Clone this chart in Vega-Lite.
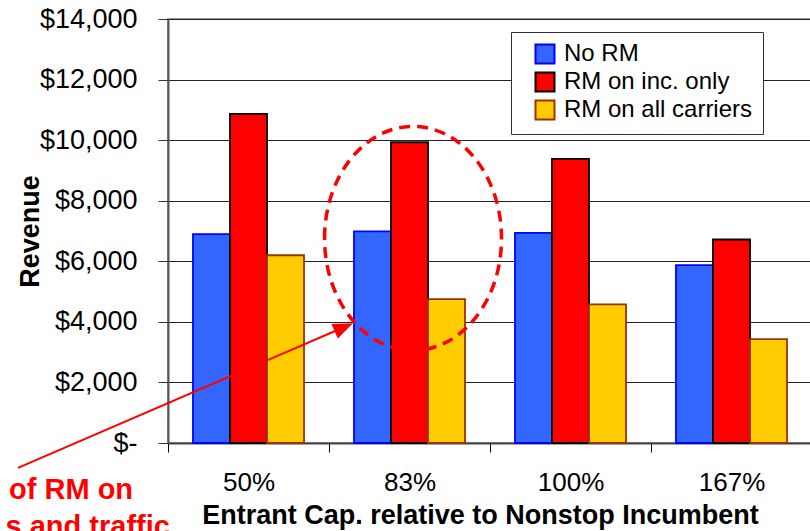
{
  "$schema": "https://vega.github.io/schema/vega-lite/v6.json",
  "description": "Revenue by entrant capacity, with and without RM",
  "width": 644,
  "height": 424,
  "autosize": "none",
  "padding": {"left": 168, "top": 19, "right": 0, "bottom": 88},
  "config": {
    "font": "Liberation Sans",
    "view": {"stroke": "#999999", "strokeWidth": 2},
    "legend": {"symbolStrokeWidth": 2, "labelLimit": 400}
  },
  "layer": [
    {
      "data": {
        "values": [
          {"cap": "50%", "series": "No RM", "revenue": 6900},
          {"cap": "50%", "series": "RM on inc. only", "revenue": 10870},
          {"cap": "50%", "series": "RM on all carriers", "revenue": 6200},
          {"cap": "83%", "series": "No RM", "revenue": 6990},
          {"cap": "83%", "series": "RM on inc. only", "revenue": 9930},
          {"cap": "83%", "series": "RM on all carriers", "revenue": 4750},
          {"cap": "100%", "series": "No RM", "revenue": 6940},
          {"cap": "100%", "series": "RM on inc. only", "revenue": 9380},
          {"cap": "100%", "series": "RM on all carriers", "revenue": 4580},
          {"cap": "167%", "series": "No RM", "revenue": 5870},
          {"cap": "167%", "series": "RM on inc. only", "revenue": 6720},
          {"cap": "167%", "series": "RM on all carriers", "revenue": 3430}
        ]
      },
      "mark": {"type": "bar", "strokeWidth": 1.8},
      "encoding": {
        "x": {
          "field": "cap", "type": "nominal",
          "sort": ["50%", "83%", "100%", "167%"],
          "scale": {"paddingInner": 0, "paddingOuter": 0},
          "axis": {
            "title": "Entrant Cap. relative to Nonstop Incumbent",
            "titleFontSize": 27, "titleFontWeight": "bold", "titleColor": "black",
            "titleX": 312, "titleY": 80, "titleBaseline": "alphabetic",
            "labelAngle": 0, "labelFontSize": 26, "labelColor": "black",
            "labelBaseline": "alphabetic", "labelPadding": 38,
            "tickBand": "extent", "tickSize": 9, "tickColor": "black",
            "domainColor": "#444444", "domainWidth": 2
          }
        },
        "xOffset": {
          "field": "series", "type": "nominal",
          "sort": ["No RM", "RM on inc. only", "RM on all carriers"],
          "scale": {"paddingInner": 0, "paddingOuter": 0.675}
        },
        "y": {
          "field": "revenue", "type": "quantitative",
          "scale": {"domain": [0, 14000], "nice": false},
          "axis": {
            "title": "Revenue",
            "titleFontSize": 27, "titleFontWeight": "bold", "titleColor": "black",
            "titleAngle": -90, "titleX": -138, "titleY": 212,
            "titleAlign": "center", "titleBaseline": "middle",
            "values": [0, 2000, 4000, 6000, 8000, 10000, 12000, 14000],
            "labelExpr": "datum.value == 0 ? '$-\u00a0\u00a0\u00a0\u00a0' : '$' + format(datum.value, ',')",
            "labelFontSize": 27, "labelColor": "black", "labelPadding": 21,
            "tickSize": 10, "tickColor": "#333333",
            "grid": true, "gridColor": "#222222", "gridWidth": 1,
            "domainColor": "#555555", "domainWidth": 2
          }
        },
        "fill": {
          "field": "series", "type": "nominal",
          "scale": {
            "domain": ["No RM", "RM on inc. only", "RM on all carriers"],
            "range": ["#3366FF", "#FF0000", "#FFCC00"]
          },
          "legend": {
            "title": null, "orient": "none", "legendX": 343, "legendY": 13,
            "padding": 10, "symbolOffset": 12, "symbolType": "square",
            "symbolSize": 361, "labelFontSize": 24, "labelColor": "black",
            "labelOffset": 7, "rowPadding": 0, "labelLimit": 400,
            "strokeColor": "#333333", "fillColor": "white"
          }
        },
        "stroke": {
          "field": "series", "type": "nominal",
          "scale": {
            "domain": ["No RM", "RM on inc. only", "RM on all carriers"],
            "range": ["#0000FF", "#000000", "#993300"]
          },
          "legend": {
            "title": null, "orient": "none", "legendX": 343, "legendY": 13,
            "padding": 10, "symbolOffset": 12, "symbolType": "square",
            "symbolSize": 361, "labelFontSize": 24, "labelColor": "black",
            "labelOffset": 7, "rowPadding": 0, "labelLimit": 400,
            "strokeColor": "#333333", "fillColor": "white"
          }
        }
      }
    },
    {
      "layer": [
        {
          "data": {"values": [{"kind": "ellipse", "ax": 1.522, "ay": 6755}]},
          "mark": {
            "type": "point",
            "shape": "M -0.79 0 A 0.79 1 0 1 1 0.79 0 A 0.79 1 0 1 1 -0.79 0 Z",
            "size": 50176, "filled": false, "stroke": "#FF0000",
            "strokeWidth": 3.5, "strokeDash": [11, 7], "opacity": 1
          },
          "encoding": {
            "x": {"field": "ax", "type": "quantitative", "scale": {"domain": [0, 4], "nice": false, "zero": false}, "axis": null},
            "y": {"field": "ay", "type": "quantitative", "scale": {"domain": [0, 14000], "nice": false}, "axis": null}
          }
        },
        {
          "data": {"values": [{"kind": "arrow", "ax": -0.932, "ay": -824, "bx": 1.092, "by": 3822}]},
          "mark": {"type": "rule", "stroke": "#FF0000", "strokeWidth": 2},
          "encoding": {
            "x": {"field": "ax", "type": "quantitative", "scale": {"domain": [0, 4], "nice": false, "zero": false}, "axis": null},
            "y": {"field": "ay", "type": "quantitative", "scale": {"domain": [0, 14000], "nice": false}, "axis": null},
            "x2": {"field": "bx"},
            "y2": {"field": "by"}
          }
        },
        {
          "data": {"values": [{"kind": "arrowhead", "ax": 1.092, "ay": 3822}]},
          "mark": {
            "type": "point", "shape": "M 0 -1 L 0.8 1 L -0.8 1 Z",
            "size": 400, "filled": true, "fill": "#FF0000", "opacity": 1,
            "angle": 66.6
          },
          "encoding": {
            "x": {"field": "ax", "type": "quantitative", "scale": {"domain": [0, 4], "nice": false, "zero": false}, "axis": null},
            "y": {"field": "ay", "type": "quantitative", "scale": {"domain": [0, 14000], "nice": false}, "axis": null}
          }
        },
        {
          "data": {
            "values": [
              {"note": "of RM on", "ax": -0.217, "ay": -1845},
              {"note": "s and traffic", "ax": 0.012, "ay": -3064}
            ]
          },
          "mark": {
            "type": "text", "align": "right", "baseline": "alphabetic",
            "fontSize": 29, "fontWeight": "bold", "color": "#FF0000"
          },
          "encoding": {
            "x": {"field": "ax", "type": "quantitative", "scale": {"domain": [0, 4], "nice": false, "zero": false}, "axis": null},
            "y": {"field": "ay", "type": "quantitative", "scale": {"domain": [0, 14000], "nice": false}, "axis": null},
            "text": {"field": "note"}
          }
        }
      ]
    }
  ],
  "resolve": {"scale": {"x": "independent", "y": "independent"}}
}
